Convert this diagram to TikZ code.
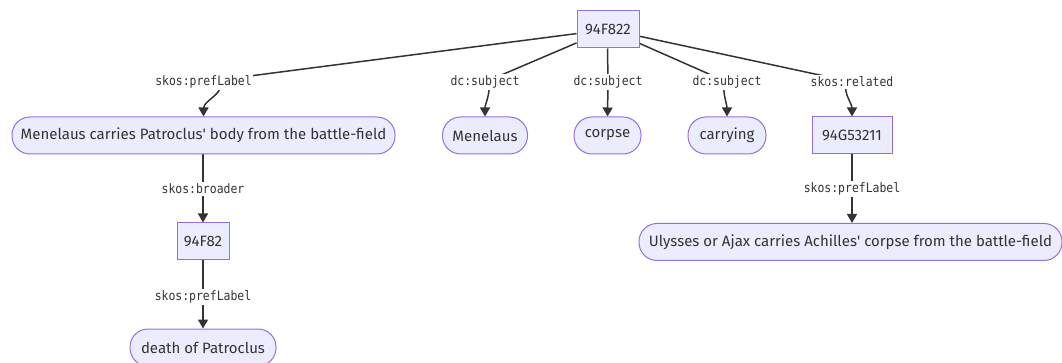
\documentclass[tikz,border=0pt]{standalone}
\usepackage{fontspec}
\setmainfont{Fira Sans}
\newfontfamily\edgefont[FakeStretch=0.88]{DejaVu Sans Mono}
\usetikzlibrary{arrows.meta,backgrounds}
\definecolor{nodefill}{HTML}{ECECFF}
\definecolor{nodeline}{HTML}{9370DB}
\definecolor{ink}{HTML}{333333}

\tikzset{
  concept/.style={draw=nodeline, fill=nodefill, line width=1pt, text=ink,
    font=\fontsize{15}{18}\selectfont, minimum height=37pt, inner xsep=0pt,
    inner ysep=0pt, anchor=center},
  term/.style={concept, rounded corners=18pt},
  rel/.style={fill=white, text=ink, font=\edgefont\fontsize{13}{15}\selectfont,
    inner xsep=1pt, inner ysep=2pt},
  link/.style={draw=ink, line width=1.5pt},
  arrowlink/.style={link, -{Triangle[length=9pt,width=10pt]}},
}

\begin{document}
\begin{tikzpicture}[x=1pt,y=-1pt]
\useasboundingbox (0,0) rectangle (1062,363);

% concepts and terms
\node[concept, minimum width=62pt] (root) at (608,29.5) {94F822};
\node[term, minimum width=383pt] (menlong) at (203.5,135.5) {Menelaus carries Patroclus\textquotesingle{} body from the battle-field};
\node[term, minimum width=85pt] (menelaus) at (485,135.5) {Menelaus};
\node[term, minimum width=67pt] (corpse) at (607.5,135.5) {corpse};
\node[term, minimum width=78pt] (carrying) at (727,135.5) {carrying};
\node[concept, minimum width=80pt] (related) at (852,135.5) {94G53211};
\node[concept, minimum width=52pt] (broader) at (203,241.5) {94F82};
\node[term, minimum width=146pt] (death) at (203,347.5) {death of Patroclus};
\node[term, minimum width=423pt] (ulysses) at (850.5,242) {Ulysses or Ajax carries Achilles\textquotesingle{} corpse from the battle-field};

% edge labels
\node[rel] (l1) at (203.5,82) {skos:prefLabel};
\node[rel] (l2) at (485,82) {dc:subject};
\node[rel] (l3) at (608,82) {dc:subject};
\node[rel] (l4) at (727,82) {dc:subject};
\node[rel] (l5) at (852,82) {skos:related};
\node[rel] (l6) at (203,189) {skos:broader};
\node[rel] (l7) at (203,297) {skos:prefLabel};
\node[rel] (l8) at (852,189) {skos:prefLabel};

% connectors, kept behind the labels
\begin{pgfonlayer}{background}
  \draw[link] (root) -- (l1.center);
  \draw[arrowlink] (l1.center) .. controls +(36,4) and +(0,-17) .. (menlong.north);
  \draw[link] (root) -- (l2.center);
  \draw[arrowlink] (l2.center) .. controls +(9,4) and +(0,-13) .. (menelaus.north);
  \draw[link] (root.south -| corpse.north) -- (l3.center);
  \draw[arrowlink] (l3.center) -- (corpse.north);
  \draw[link] (root) -- (l4.center);
  \draw[arrowlink] (l4.center) .. controls +(-7,4) and +(0,-13) .. (carrying.north);
  \draw[link] (root) -- (l5.center);
  \draw[arrowlink] (l5.center) .. controls +(-14,4) and +(0,-14) .. (related.north);
  \draw[link] (menlong.south -| broader.north) -- (l6.center);
  \draw[arrowlink] (l6.center) -- (broader.north);
  \draw[link] (broader.south) -- (l7.center);
  \draw[arrowlink] (l7.center) -- (death.north);
  \draw[link] (related.south) -- (l8.center);
  \draw[arrowlink] (l8.center) -- (ulysses.north -| related.south);
\end{pgfonlayer}
\end{tikzpicture}
\end{document}
